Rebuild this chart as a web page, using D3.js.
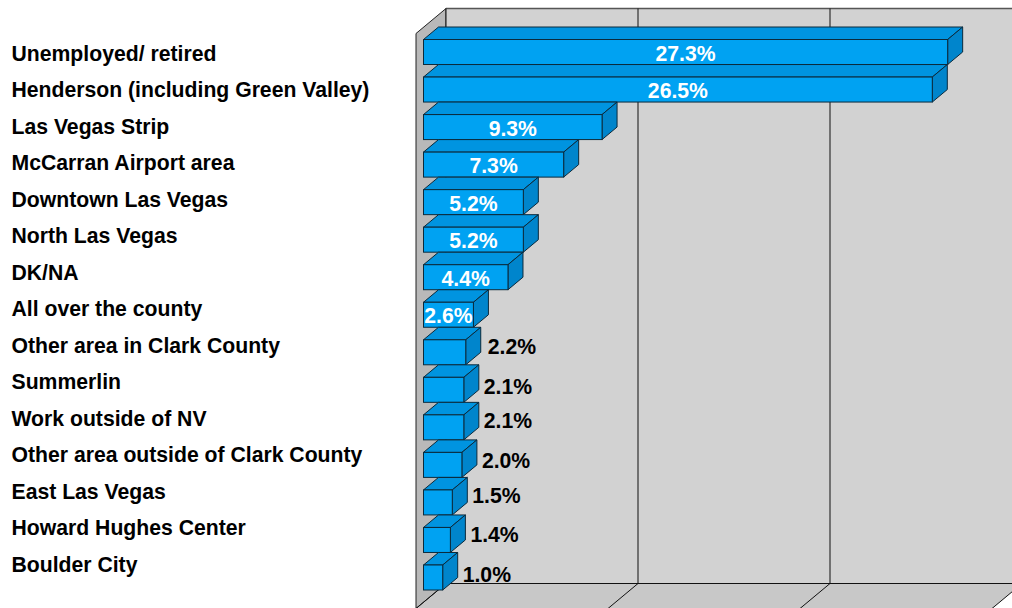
<!DOCTYPE html>
<html>
<head>
<meta charset="utf-8">
<style>
	html, body { margin: 0; padding: 0; background: #fff; overflow: hidden; }
	text { font-family: "Liberation Sans", Arial, sans-serif; font-weight: bold; }
</style>
<script src="https://cdn.jsdelivr.net/npm/d3@7"></script>
</head>
<body>
<div id="dataviz"></div>
<script>
var categories = [
	"Unemployed/ retired",
	"Henderson (including Green Valley)",
	"Las Vegas Strip",
	"McCarran Airport area",
	"Downtown Las Vegas",
	"North Las Vegas",
	"DK/NA",
	"All over the county",
	"Other area in Clark County",
	"Summerlin",
	"Work outside of NV",
	"Other area outside of Clark County",
	"East Las Vegas",
	"Howard Hughes Center",
	"Boulder City"
];
var values = [27.3, 26.5, 9.3, 7.3, 5.2, 5.2, 4.4, 2.6, 2.2, 2.1, 2.1, 2.0, 1.5, 1.4, 1.0];
var gridTicks = [0, 10, 20, 30];

var svgWidth = 1012;
var svgHeight = 608;

// back wall box and the offset of the front edge
var wall = {left: 446, top: 8.5, bottom: 583.5};
var depth = {x: -30, y: 25};
// bars sit halfway along the depth
var barDepth = {x: 15, y: -12.5};
var barHeight = 25;

// hand placed labels past the short bars, keyed by category
var outsideNudge = {
	"Other area in Clark County": [2, -7],
	"Summerlin": [0, -4],
	"Work outside of NV": [0, -8],
	"Other area outside of Clark County": [0, -6],
	"East Las Vegas": [0, -8],
	"Howard Hughes Center": [0, -7],
	"Boulder City": [0, -4]
};

var svg = d3.select("#dataviz")
	.append("svg")
	.attr("width", svgWidth)
	.attr("height", svgHeight)
	.style("display", "block");

var gridX = d3.scaleLinear().domain([0, 10]).range([wall.left, wall.left + 192]);
var barX = d3.scaleLinear().domain([0, 10]).range([423.5, 423.5 + 192]);

var barY = d3.scalePoint()
	.domain(d3.range(categories.length))
	.range([39.5, 565]);

var labelY = d3.scalePoint()
	.domain(categories)
	.range([53, 564]);

function poly(points) {
	return d3.line()(points) + "Z";
}

var right = gridX(30);

// floor
svg.append("path")
	.attr("d", poly([
		[wall.left, wall.bottom], [right, wall.bottom],
		[right + depth.x, wall.bottom + depth.y], [wall.left + depth.x, wall.bottom + depth.y]
	]))
	.attr("fill", "#c8c8c8");

// left wall
svg.append("path")
	.attr("d", poly([
		[wall.left, wall.top], [wall.left, wall.bottom],
		[wall.left + depth.x, wall.bottom + depth.y], [wall.left + depth.x, wall.top + depth.y]
	]))
	.attr("fill", "#b9b9b9")
	.attr("stroke", "#222")
	.attr("stroke-width", 1);

// back wall
svg.append("rect")
	.attr("x", wall.left)
	.attr("y", wall.top)
	.attr("width", right - wall.left)
	.attr("height", wall.bottom - wall.top)
	.attr("fill", "#d2d2d2");

svg.append("line")
	.attr("x1", wall.left)
	.attr("x2", right)
	.attr("y1", wall.top)
	.attr("y2", wall.top)
	.attr("stroke", "#555")
	.attr("stroke-width", 1.5);

svg.append("line")
	.attr("x1", wall.left)
	.attr("x2", right)
	.attr("y1", wall.bottom)
	.attr("y2", wall.bottom)
	.attr("stroke", "#111")
	.attr("stroke-width", 1);

// gridlines with their run across the floor
gridTicks.forEach(function(t) {
	svg.append("line")
		.attr("x1", gridX(t))
		.attr("x2", gridX(t))
		.attr("y1", wall.top)
		.attr("y2", wall.bottom)
		.attr("stroke", "#111")
		.attr("stroke-width", 1);
	svg.append("line")
		.attr("x1", gridX(t))
		.attr("x2", gridX(t) + depth.x)
		.attr("y1", wall.bottom)
		.attr("y2", wall.bottom + depth.y)
		.attr("stroke", "#111")
		.attr("stroke-width", 1);
});

var bars = svg.selectAll("g.bar")
	.data(values)
	.enter().append("g")
	.attr("class", "bar");

// top face
bars.append("path")
	.attr("d", function(d, i) {
		var y = barY(i);
		return poly([
			[barX(0), y], [barX(d), y],
			[barX(d) + barDepth.x, y + barDepth.y], [barX(0) + barDepth.x, y + barDepth.y]
		]);
	})
	.attr("fill", "#0094e0")
	.attr("stroke", "#0b2a3c")
	.attr("stroke-width", 1);

// side face
bars.append("path")
	.attr("d", function(d, i) {
		var y = barY(i);
		return poly([
			[barX(d), y], [barX(d) + barDepth.x, y + barDepth.y],
			[barX(d) + barDepth.x, y + barDepth.y + barHeight], [barX(d), y + barHeight]
		]);
	})
	.attr("fill", "#0085cc")
	.attr("stroke", "#0b2a3c")
	.attr("stroke-width", 1);

// front face
bars.append("rect")
	.attr("x", barX(0))
	.attr("y", function(d, i) { return barY(i); })
	.attr("width", function(d) { return barX(d) - barX(0); })
	.attr("height", barHeight)
	.attr("fill", "#00a2f2")
	.attr("stroke", "#0b2a3c")
	.attr("stroke-width", 1);

// category labels
svg.selectAll("text.cat")
	.data(categories)
	.enter().append("text")
	.attr("class", "cat")
	.attr("x", 11.5)
	.attr("y", function(d) { return labelY(d); })
	.attr("dy", "0.36em")
	.attr("font-size", 21.2)
	.attr("fill", "#000")
	.text(function(d) { return d; });

// values: white inside the long bars, black past the short ones
svg.selectAll("text.val")
	.data(values)
	.enter().append("text")
	.attr("class", "val")
	.attr("x", function(d, i) {
		var nudge = outsideNudge[categories[i]];
		return nudge ? barX(d) + barDepth.x + 5 + nudge[0] : (barX(0) + barX(d)) / 2;
	})
	.attr("y", function(d, i) {
		var nudge = outsideNudge[categories[i]];
		return barY(i) + barHeight / 2 + 1 + (nudge ? nudge[1] : 0);
	})
	.attr("dy", "0.36em")
	.attr("text-anchor", function(d, i) { return outsideNudge[categories[i]] ? "start" : "middle"; })
	.attr("font-size", 21.2)
	.attr("fill", function(d, i) { return outsideNudge[categories[i]] ? "#000" : "#fff"; })
	.text(function(d) { return d.toFixed(1) + "%"; });
</script>
</body>
</html>
